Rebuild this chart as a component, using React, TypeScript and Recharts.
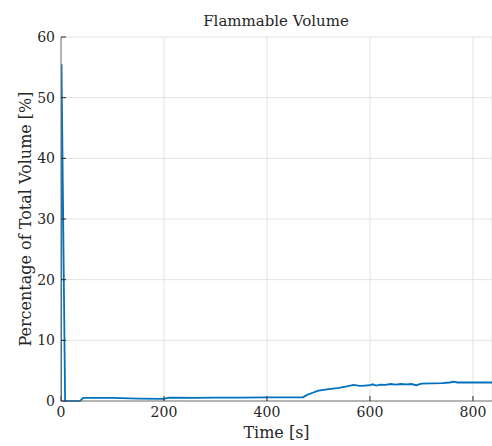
import React from 'react';
import { LineChart, Line, XAxis, YAxis, CartesianGrid } from 'recharts';

const times = [0, 1, 8, 37, 43, 100, 150, 200, 210, 260, 300, 350, 400, 440, 470, 478, 490, 500, 520, 540, 555, 568, 580, 590, 600, 605, 612, 620, 630, 640, 650, 660, 670, 680, 690, 700, 720, 740, 755, 762, 770, 800, 837];
const volumes = [0, 55.5, 0, 0, 0.5, 0.5, 0.4, 0.35, 0.55, 0.5, 0.55, 0.55, 0.6, 0.6, 0.6, 1.0, 1.4, 1.7, 1.95, 2.15, 2.4, 2.65, 2.5, 2.55, 2.6, 2.75, 2.55, 2.7, 2.65, 2.8, 2.7, 2.8, 2.75, 2.8, 2.6, 2.85, 2.9, 2.95, 3.05, 3.2, 3.05, 3.05, 3.05];
const xTicks = [0, 200, 400, 600, 800];
const yTicks = [0, 10, 20, 30, 40, 50, 60];

const data = times.map((t, i) => ({ t, v: volumes[i] }));

const FONT = 'DejaVu Serif';
const TEXT = '#262626';

export default function App() {
  return (
    <div style={{ position: 'absolute', left: 0, top: 0, width: 492, height: 446, background: '#fff', fontFamily: FONT }}>
      <LineChart width={492} height={446} data={data} margin={{ top: 37, right: 0, bottom: 0, left: 0 }} style={{ fontFamily: FONT }}>
        <CartesianGrid stroke="#e3e3e3" strokeWidth={1} />
        <XAxis
          dataKey="t"
          type="number"
          domain={[0, 837]}
          ticks={xTicks}
          allowDataOverflow
          height={45}
          tickSize={-5}
          tickMargin={11}
          stroke="#777"
          tickLine={{ stroke: '#262626' }}
          tick={{ fill: TEXT, fontFamily: FONT, fontSize: 14 }}
          label={{ value: 'Time [s]', position: 'insideBottom', offset: 8, fill: TEXT, fontFamily: FONT, fontSize: 16 }}
        />
        <XAxis
          xAxisId="top"
          dataKey="t"
          type="number"
          orientation="top"
          domain={[0, 837]}
          ticks={xTicks}
          allowDataOverflow
          height={0}
          tickSize={-5}
          stroke="#262626"
          tickFormatter={() => ''}
        />
        <YAxis
          type="number"
          domain={[0, 60]}
          ticks={yTicks}
          width={61}
          tickSize={-5}
          tickMargin={11}
          stroke="#777"
          tickLine={{ stroke: '#262626' }}
          tick={{ fill: TEXT, fontFamily: FONT, fontSize: 14 }}
          label={{ value: 'Percentage of Total Volume [%]', angle: -90, position: 'insideLeft', offset: 25, style: { textAnchor: 'middle' }, fill: TEXT, fontFamily: FONT, fontSize: 16 }}
        />
        <Line
          type="linear"
          dataKey="v"
          stroke="#0072BD"
          strokeWidth={1.8}
          dot={false}
          isAnimationActive={false}
        />
        <text x={276} y={26} textAnchor="middle" fontFamily={FONT} fontSize={15} fill={TEXT}>
          Flammable Volume
        </text>
      </LineChart>
    </div>
  );
}
